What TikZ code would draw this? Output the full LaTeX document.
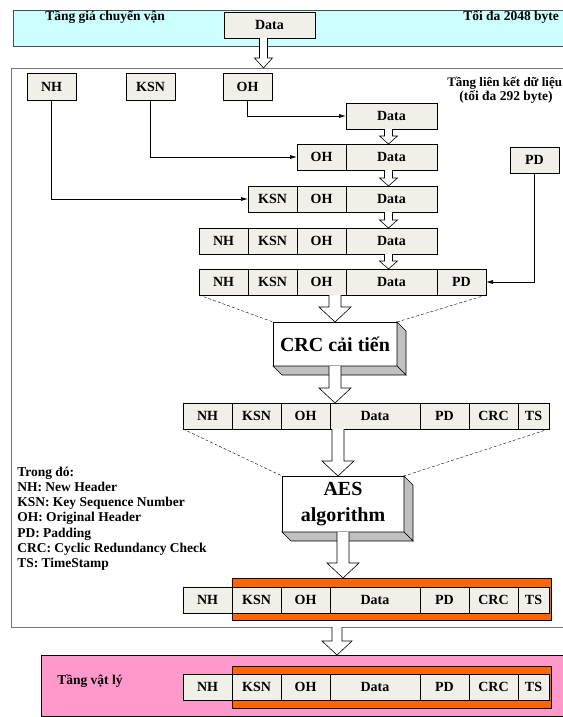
\documentclass[tikz,border=0pt]{standalone}
\usepackage{fontspec}
\setmainfont{Liberation Serif}
\usetikzlibrary{arrows.meta,calc,positioning}

\definecolor{transcyan}{HTML}{CCFFFF}
\definecolor{cellgray}{HTML}{F0F0E8}
\definecolor{barorange}{HTML}{FF6600}
\definecolor{physpink}{HTML}{FF99CC}
\definecolor{sidegray}{HTML}{C0C0C0}

% hollow block arrow: from, to, shaft half width, head half width, head length
\newcommand\hollowarrow[5]{%
  \draw[hollow] let \p1=(#1), \p2=(#2) in
    (\x1-#3,\y1) -- (\x1-#3,\y2+#5) -- (\x1-#4,\y2+#5) -- (\x1,\y2)
    -- (\x1+#4,\y2+#5) -- (\x1+#3,\y2+#5) -- (\x1+#3,\y1);
}
% extruded faces of a 3d box
\newcommand\solidfaces[2]{%
  \filldraw[fill=sidegray] (#1.north east) -- ++(#2,#2) -- ($(#1.south east)+(#2,#2)$)
    -- (#1.south east) -- cycle;
  \filldraw[fill=sidegray] (#1.south west) -- ++(#2,#2) -- ($(#1.south east)+(#2,#2)$)
    -- (#1.south east) -- cycle;
}

\begin{document}
\begin{tikzpicture}[
  x=1pt, y=-1pt,
  line width=0.6pt,
  cell/.style={draw=black, fill=cellgray, minimum height=26pt, inner sep=0pt,
               outer sep=0pt, font=\bfseries\fontsize{14}{16}\selectfont},
  hdr/.style={cell, minimum width=49pt},
  datacell/.style={cell, minimum width=90pt},
  tscell/.style={cell, minimum width=31pt},
  band/.style={anchor=north west, inner sep=0pt, outer sep=0pt},
  bar/.style={band, draw=black, fill=barorange, minimum width=319pt, minimum height=42pt},
  bigbox/.style={draw=black, fill=white, anchor=north west, align=center, inner sep=0pt,
                 outer sep=0pt, font=\bfseries\fontsize{20}{26}\selectfont},
  note/.style={inner sep=0pt, font=\bfseries\fontsize{13.5}{14}\selectfont},
  legend/.style={note, align=left, font=\bfseries\fontsize{13.5}{15.1}\selectfont},
  hollow/.style={draw=black, fill=white, line width=0.6pt},
  feed/.style={-{Latex[length=7pt,width=4pt]}, line width=0.7pt},
  guide/.style={dashed, dash pattern=on 3pt off 2pt, line width=0.4pt},
]
  \useasboundingbox (0,0) rectangle (562,717);

  % layers
  \node[band, draw=black!70, fill=transcyan, minimum width=600pt, minimum height=36pt]
    (transport) at (13,10) {};
  \node[band, draw=black!55, minimum width=600pt, minimum height=559pt] (link) at (11,68) {};
  \node[band, draw=black, fill=physpink, minimum width=600pt, minimum height=61pt]
    (phys) at (41,655) {};

  \node[note, anchor=west] (tlabel) at (45,17) {Tầng giá chuyển vận};
  \node[note, anchor=west] (tmax) at (463,17) {Tối đa 2048 byte};
  \node[note, anchor=west, font=\bfseries\fontsize{13}{14}\selectfont]
    (llabel) at (447,83) {Tầng liên kết dữ liệu};
  \node[note] (lmax) at (506,97) {(tối đa 292 byte)};
  \node[note, anchor=west] (plabel) at (57,681) {Tầng vật lý};

  \node[datacell, minimum width=91pt, anchor=north west] (tdata) at (224,12) {Data};

  % headers
  \node[hdr, minimum height=27pt, anchor=north west] (nh) at (27,73) {NH};
  \node[hdr, minimum height=27pt, anchor=north west] (ksn) at (126,73) {KSN};
  \node[hdr, minimum height=27pt, anchor=north west] (oh) at (223,73) {OH};
  \node[hdr, anchor=north west] (pd) at (510,147) {PD};

  % building the frame
  \node[datacell, minimum width=91pt, anchor=north west] (r1d) at (346,103) {Data};

  \node[datacell, minimum width=91pt, anchor=north west] (r2d) at (346,144) {Data};
  \node[hdr, left=0pt of r2d] (r2o) {OH};

  \node[datacell, minimum width=91pt, anchor=north west] (r3d) at (346,186) {Data};
  \node[hdr, left=0pt of r3d] (r3o) {OH};
  \node[hdr, left=0pt of r3o] (r3k) {KSN};

  \node[datacell, minimum width=91pt, anchor=north west] (r4d) at (346,228) {Data};
  \node[hdr, left=0pt of r4d] (r4o) {OH};
  \node[hdr, left=0pt of r4o] (r4k) {KSN};
  \node[hdr, left=0pt of r4k] (r4n) {NH};

  \node[datacell, minimum width=91pt, anchor=north west] (r5d) at (346,269) {Data};
  \node[hdr, left=0pt of r5d] (r5o) {OH};
  \node[hdr, left=0pt of r5o] (r5k) {KSN};
  \node[hdr, left=0pt of r5k] (r5n) {NH};
  \node[hdr, right=0pt of r5d] (r5p) {PD};

  \draw[feed] (oh.south) |- (r1d.west);
  \draw[feed] (ksn.south) |- (r2o.west);
  \draw[feed] (nh.south) |- (r3k.west);
  \draw[feed] (pd.south) |- (r5p.east);

  \hollowarrow{$(tdata.south)+(-6,0)$}{link.north}{4pt}{9pt}{10pt}
  \foreach \a/\b in {r1d/r2d, r2d/r3d, r3d/r4d, r4d/r5d}{
    \hollowarrow{$(\a.south)+(-3,0)$}{\b.north}{4pt}{9pt}{8pt}
  }

  % CRC
  \node[bigbox, minimum width=124pt, minimum height=44pt] (crc) at (273,322) {CRC cải tiến};
  \solidfaces{crc}{9}
  \draw[guide] (r5n.south west) -- (crc.north west);
  \draw[guide] (r5p.south east) -- (crc.north east);
  \hollowarrow{r5d.south -| crc.north}{crc.north}{6pt}{16pt}{15pt}

  \node[hdr, anchor=north west] (r6n) at (183,403) {NH};
  \node[hdr, right=0pt of r6n] (r6k) {KSN};
  \node[hdr, right=0pt of r6k] (r6o) {OH};
  \node[datacell, right=0pt of r6o] (r6d) {Data};
  \node[hdr, right=0pt of r6d] (r6p) {PD};
  \node[hdr, right=0pt of r6p] (r6c) {CRC};
  \node[tscell, right=0pt of r6c] (r6t) {TS};
  \hollowarrow{crc.south}{r6d.north}{6pt}{16pt}{15pt}

  % AES
  \node[bigbox, minimum width=122pt, minimum height=56pt] (aes) at (282,476) {AES\\algorithm};
  \solidfaces{aes}{9}
  \draw[guide] (r6n.south west) -- (aes.north west);
  \draw[guide] (r6t.south east) -- (aes.north east);
  \hollowarrow{$(r6d.south -| aes.north)+(-5,0)$}{aes.north}{6pt}{16pt}{15pt}

  \node[bar] (r7bar) at (232,578) {};
  \node[hdr, anchor=north west] (r7n) at (183,587) {NH};
  \node[hdr, right=0pt of r7n] (r7k) {KSN};
  \node[hdr, right=0pt of r7k] (r7o) {OH};
  \node[datacell, right=0pt of r7o] (r7d) {Data};
  \node[hdr, right=0pt of r7d] (r7p) {PD};
  \node[hdr, right=0pt of r7p] (r7c) {CRC};
  \node[tscell, right=0pt of r7c] (r7t) {TS};
  \hollowarrow{aes.south}{r7bar.north}{6pt}{16pt}{15pt}

  % physical layer
  \hollowarrow{$(link.south -| aes.south)+(-6,0)$}{phys.north}{5pt}{15pt}{14pt}
  \node[bar] (r8bar) at (232,666) {};
  \node[hdr, anchor=north west] (r8n) at (183,674) {NH};
  \node[hdr, right=0pt of r8n] (r8k) {KSN};
  \node[hdr, right=0pt of r8k] (r8o) {OH};
  \node[datacell, right=0pt of r8o] (r8d) {Data};
  \node[hdr, right=0pt of r8d] (r8p) {PD};
  \node[hdr, right=0pt of r8p] (r8c) {CRC};
  \node[tscell, right=0pt of r8c] (r8t) {TS};

  \node[legend, anchor=north west] (legend) at (17,467) {Trong đó:\\NH: New Header\\
    KSN: Key Sequence Number\\OH: Original Header\\PD: Padding\\
    CRC: Cyclic Redundancy Check\\TS: TimeStamp};
\end{tikzpicture}
\end{document}
